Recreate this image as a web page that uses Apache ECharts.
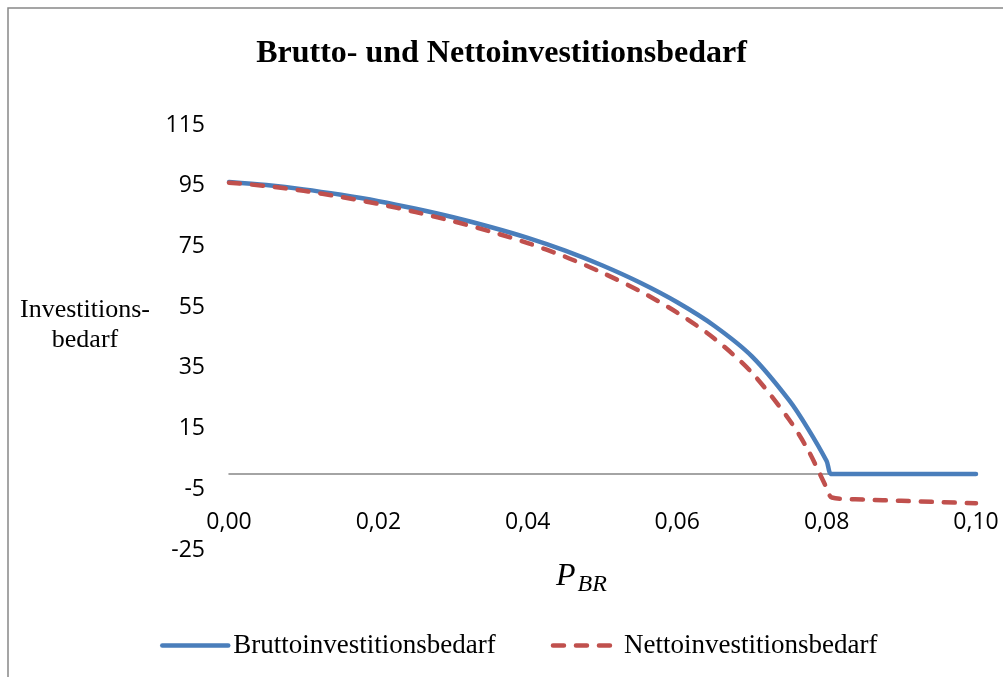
<!DOCTYPE html>
<html>
<head>
<meta charset="utf-8">
<script src="https://cdn.jsdelivr.net/npm/echarts@6/dist/echarts.min.js"></script>
<style>
  html, body { margin: 0; padding: 0; background: #fff; }
  #main { width: 1003px; height: 677px; }
</style>
</head>
<body>
<div id="main"></div>
<script>
// P_BR Stützstellen
var pValues = [0, 0.005, 0.01, 0.015, 0.02, 0.025, 0.03, 0.035, 0.04, 0.045, 0.05,
  0.055, 0.06, 0.065, 0.07, 0.075, 0.0775, 0.08, 0.0807, 0.085, 0.09, 0.095, 0.1];

// Bruttoinvestitionsbedarf
var brutto = [96.2, 95.2, 93.8, 92.0, 89.9, 87.4, 84.6, 81.4, 77.8, 73.6, 68.7,
  63.1, 56.6, 48.8, 38.8, 24.3, 15.0, 4.3, 0, 0, 0, 0, 0];

// Nettoinvestitionsbedarf
var netto = [96.0, 94.9, 93.3, 91.3, 89.0, 86.3, 83.3, 79.9, 76.1, 71.6, 66.3,
  60.3, 53.2, 44.6, 33.4, 17.9, 8.0, -4.5, -7.7, -8.4, -8.8, -9.2, -9.6];

var seriesNames = ['Bruttoinvestitionsbedarf', 'Nettoinvestitionsbedarf'];

function pairs(vals) {
  return pValues.map(function (p, i) { return [p, vals[i]]; });
}

var chart = echarts.init(document.getElementById('main'));

var serif = '"Liberation Serif", "Times New Roman", serif';
var sans = '"Open Sans", "Liberation Sans", sans-serif';

chart.setOption({
  backgroundColor: '#fff',
  animation: false,
  title: {
    text: 'Brutto- und Nettoinvestitionsbedarf',
    left: 'center',
    top: 33,
    textStyle: { fontFamily: serif, fontSize: 32, fontWeight: 'bold', color: '#000' }
  },
  grid: { left: 229, right: 27, top: 125, bottom: 127 },
  legend: {
    data: seriesNames,
    left: 155,
    top: 627,
    itemWidth: 66,
    itemHeight: 14,
    itemGap: 55,
    itemStyle: { opacity: 0 },
    lineStyle: { width: 4.5, cap: 'round' },
    textStyle: { fontFamily: serif, fontSize: 27, color: '#000' }
  },
  xAxis: {
    type: 'value',
    min: 0,
    max: 0.1,
    interval: 0.02,
    axisLine: { onZero: true, lineStyle: { color: '#868686', width: 1.5 } },
    axisTick: { show: false },
    splitLine: { show: false },
    axisLabel: {
      margin: -39,
      fontFamily: sans,
      fontSize: 23,
      color: '#000',
      formatter: function (v) { return v.toFixed(2).replace('.', ','); }
    }
  },
  yAxis: {
    type: 'value',
    min: -25,
    max: 115,
    interval: 20,
    axisLine: { show: false },
    axisTick: { show: false },
    splitLine: { show: false },
    axisLabel: { margin: 24, fontFamily: sans, fontSize: 23, color: '#000' }
  },
  graphic: [
    {
      type: 'rect',
      shape: { x: 8, y: 8, width: 1010, height: 690 },
      style: { fill: 'none', stroke: '#888', lineWidth: 1.5 },
      silent: true
    },
    {
      type: 'text',
      x: 85,
      y: 295,
      style: {
        text: 'Investitions-\nbedarf',
        align: 'center',
        verticalAlign: 'top',
        fontFamily: serif,
        fontSize: 26,
        lineHeight: 30,
        fill: '#000'
      }
    },
    {
      type: 'text',
      left: 556,
      top: 561,
      style: {
        text: '{p|P}{s|BR}',
        rich: {
          p: { fontFamily: serif, fontStyle: 'italic', fontSize: 32, fill: '#000' },
          s: { fontFamily: serif, fontStyle: 'italic', fontSize: 24, fill: '#000', padding: [16, 0, 0, 2] }
        }
      }
    }
  ],
  series: [
    {
      name: seriesNames[0],
      type: 'line',
      data: pairs(brutto),
      smooth: 0.3,
      symbol: 'none',
      lineStyle: { color: '#4a7ebb', width: 4.5, cap: 'round' },
      itemStyle: { color: '#4a7ebb' }
    },
    {
      name: seriesNames[1],
      type: 'line',
      data: pairs(netto),
      smooth: 0.3,
      symbol: 'none',
      lineStyle: { color: '#c0504d', width: 4.5, type: [11, 12], cap: 'round' },
      itemStyle: { color: '#c0504d' }
    }
  ]
});
</script>
</body>
</html>
